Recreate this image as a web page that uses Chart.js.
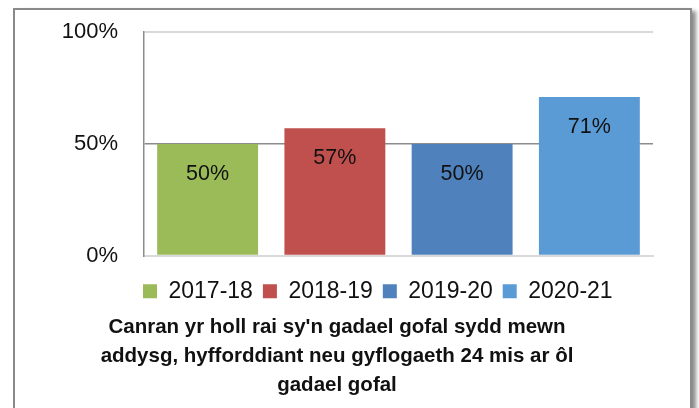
<!DOCTYPE html>
<html>
<head>
<meta charset="utf-8">
<script src="https://cdn.jsdelivr.net/npm/chart.js@4/dist/chart.umd.min.js"></script>
<style>
  html, body { margin: 0; padding: 0; background: #fff; overflow: hidden; }
  body { width: 699px; height: 408px; position: relative; }
  .frame {
    position: absolute; left: 13px; top: 8px; width: 675px; height: 430px;
    border: 2px solid #8a8a8a; box-shadow: 4px 3px 4px rgba(0,0,0,0.45); background: #fff;
  }
  canvas { position: absolute; left: 0; top: 0; }
</style>
</head>
<body>
<div class="frame"></div>
<canvas id="chart" width="674" height="408"></canvas>
<script>
// chart data
const years = ['2017-18', '2018-19', '2019-20', '2020-21'];
const values = [50, 57, 50, 71];
const colours = ['#9BBB59', '#C0504D', '#4F81BD', '#5B9BD5'];
const yTicks = [0, 50, 100];
const titleLines = [
  "Canran yr holl rai sy'n gadael gofal sydd mewn",
  'addysg, hyfforddiant neu gyflogaeth 24 mis ar ôl',
  'gadael gofal'
];

const font = "'Liberation Sans', Arial, sans-serif";

// one dataset per year so each gets its own legend entry
const datasets = years.map((year, i) => ({
  label: year,
  data: years.map((_, j) => (j === i ? values[i] : null)),
  backgroundColor: colours[i],
  borderWidth: 0,
  barPercentage: 0.793,
  categoryPercentage: 1
}));

// value labels drawn inside the top of each bar
const valueLabels = {
  id: 'valueLabels',
  afterDatasetsDraw(chart) {
    const ctx = chart.ctx;
    ctx.save();
    ctx.font = '21.5px ' + font;
    ctx.fillStyle = '#111';
    ctx.textAlign = 'center';
    ctx.textBaseline = 'middle';
    chart.data.datasets.forEach((ds, i) => {
      const meta = chart.getDatasetMeta(i);
      meta.data.forEach((bar, j) => {
        const v = ds.data[j];
        if (v === null) return;
        ctx.fillText(v + '%', bar.x, bar.y + 30);
      });
    });
    ctx.restore();
  }
};

// nudge the legend so it lines up with the plot's left edge
const legendShift = {
  id: 'legendShift',
  afterLayout(chart) {
    const lg = chart.legend;
    if (!lg) return;
    lg.left -= 11;
    lg.right -= 11;
  }
};

new Chart(document.getElementById('chart'), {
  type: 'bar',
  data: { labels: years, datasets: datasets },
  plugins: [valueLabels, legendShift],
  options: {
    responsive: false,
    animation: false,
    layout: { padding: { top: 32, right: 21, bottom: 0, left: 21 } },
    plugins: {
      tooltip: { enabled: false },
      legend: {
        position: 'bottom',
        align: 'start',
        fullSize: false,
        labels: {
          boxWidth: 14,
          boxHeight: 14,
          padding: 10,
          color: '#111',
          font: { family: font, size: 23 }
        }
      },
      title: {
        display: true,
        position: 'bottom',
        text: titleLines,
        color: '#111',
        font: { family: font, size: 20.5, weight: 'bold', lineHeight: 1.41 },
        padding: { top: 0, bottom: 8.5 }
      }
    },
    scales: {
      x: {
        stacked: true,
        ticks: { display: false },
        grid: { display: false, drawTicks: false },
        border: { color: '#d9d9d9', width: 2 },
        afterFit(scale) { scale.height = 14; }
      },
      y: {
        min: 0,
        max: 100,
        afterBuildTicks(scale) { scale.ticks = yTicks.map(v => ({ value: v })); },
        ticks: {
          padding: 6,
          color: '#111',
          font: { family: font, size: 22 },
          callback: v => v + '%'
        },
        grid: {
          drawTicks: true,
          tickLength: 20,
          tickColor: 'rgba(0,0,0,0)',
          color: c => (c.tick && c.tick.value === 50 ? '#8c8c8c' : '#d9d9d9'),
          lineWidth: c => (c.tick && c.tick.value === 50 ? 1.5 : 2)
        },
        border: { color: '#8c8c8c', width: 1.5 },
        afterFit(scale) { scale.width = 123; }
      }
    }
  }
});
</script>
</body>
</html>
